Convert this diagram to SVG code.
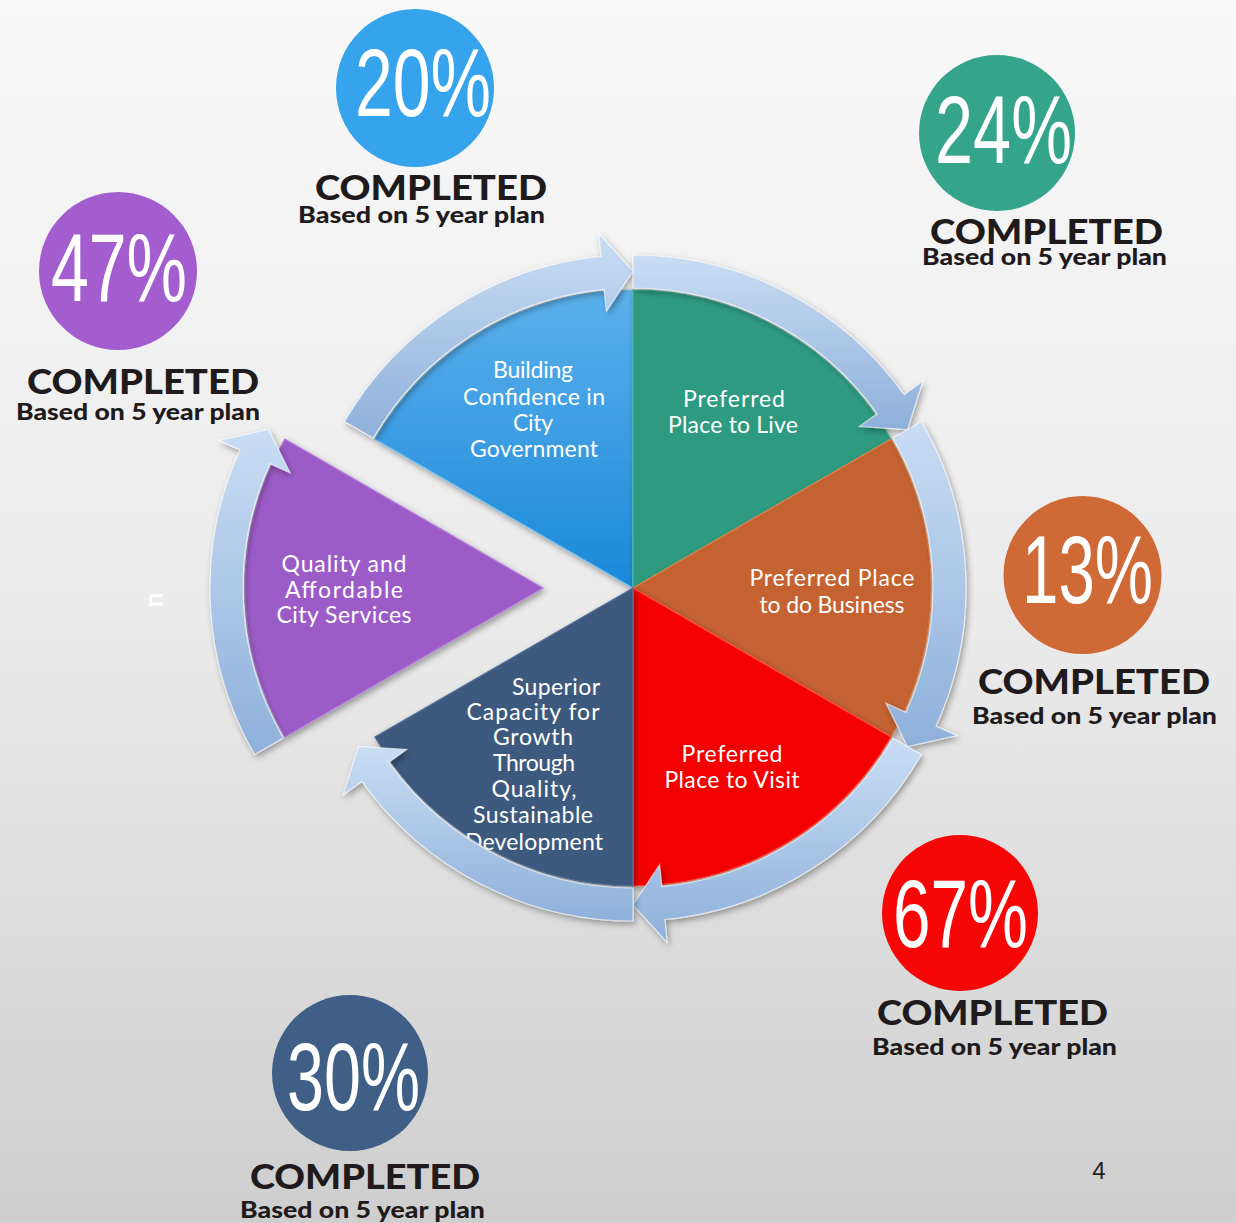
<svg xmlns="http://www.w3.org/2000/svg" width="1236" height="1223" viewBox="0 0 1236 1223">
  <defs>
    <linearGradient id="bg" x1="0" y1="0" x2="0" y2="1">
      <stop offset="0" stop-color="#f8f8f8"/>
      <stop offset="0.5" stop-color="#ebebeb"/>
      <stop offset="1" stop-color="#cecece"/>
    </linearGradient>
    <linearGradient id="arrowGrad" x1="0" y1="0" x2="0" y2="1">
      <stop offset="0" stop-color="#c9ddf4"/>
      <stop offset="1" stop-color="#8eb0da"/>
    </linearGradient>
    <linearGradient id="blueGrad" x1="0" y1="0" x2="0" y2="1">
      <stop offset="0" stop-color="#5cb0ec"/>
      <stop offset="1" stop-color="#1a89d8"/>
    </linearGradient>
    <filter id="shadow" x="-20%" y="-20%" width="140%" height="140%">
      <feDropShadow dx="2" dy="3" stdDeviation="3" flood-color="#000" flood-opacity="0.35"/>
    </filter>
    <style>
      .slice { stroke-width: 1.2; filter: url(#shadow); }
      .lbl { font-family: Lato, "Open Sans", "Liberation Sans", sans-serif; font-size: 23px; fill: #ffffff; text-anchor: middle; }
      .arrow { fill: url(#arrowGrad); stroke: #ffffff; stroke-opacity: 0.6; stroke-width: 1.2; filter: url(#shadow); }
      .pct { font-family: "Liberation Sans Narrow", "Liberation Sans", Arial, sans-serif; font-size: 96px; fill: #ffffff; text-anchor: middle; }
      .done { font-family: Lato, "DejaVu Sans", sans-serif; font-weight: 900; font-size: 34px; fill: #1f1b1c; text-anchor: middle; }
      .plan { font-family: Lato, "Open Sans", "Liberation Sans", sans-serif; font-weight: 900; font-size: 23px; fill: #1f1b1c; text-anchor: middle; }
    </style>
  </defs>

  <rect x="0" y="0" width="1236" height="1223" fill="url(#bg)"/>
  <text x="0" y="0" transform="translate(163,600) rotate(-90)" font-family="Lato, sans-serif" font-size="26" font-weight="700" fill="#ffffff" text-anchor="middle">n</text>

  <!-- Pie slices -->
  <g id="slice-government">
    <path class="slice" d="M633,588 L374.9,439 A298,298 0 0,1 633,290 Z" fill="url(#blueGrad)" stroke="#6cc0f0"/>
    <text class="lbl"><tspan x="533" y="378" textLength="80">Building</tspan><tspan x="534" y="405" textLength="142">Confidence in</tspan><tspan x="533" y="431" textLength="40">City</tspan><tspan x="534" y="457" textLength="128">Government</tspan></text>
  </g>
  <g id="slice-live">
    <path class="slice" d="M633,588 L633,290 A298,298 0 0,1 891.1,439 Z" fill="#2e9b81" stroke="#4cb59a"/>
    <text class="lbl"><tspan x="734" y="407" textLength="102">Preferred</tspan><tspan x="733" y="433" textLength="130">Place to Live</tspan></text>
  </g>
  <g id="slice-business">
    <path class="slice" d="M633,588 L891.1,439 A298,298 0 0,1 891.1,737 Z" fill="#c46231" stroke="#e08048"/>
    <text class="lbl"><tspan x="832" y="586" textLength="165">Preferred Place</tspan><tspan x="832" y="613" textLength="145">to do Business</tspan></text>
  </g>
  <g id="slice-visit">
    <path class="slice" d="M633,588 L891.1,737 A298,298 0 0,1 633,886 Z" fill="#f50505" stroke="#ff4a3a"/>
    <text class="lbl"><tspan x="732" y="762" textLength="101">Preferred</tspan><tspan x="732" y="788" textLength="135">Place to Visit</tspan></text>
  </g>
  <g id="slice-growth">
    <path class="slice" d="M633,588 L633,886 A298,298 0 0,1 374.9,737 Z" fill="#3d5a7e" stroke="#55739a"/>
    <text class="lbl"><tspan x="556" y="695" textLength="88">Superior</tspan><tspan x="533" y="720" textLength="133">Capacity for</tspan><tspan x="533" y="745" textLength="80">Growth</tspan><tspan x="534" y="771" textLength="82">Through</tspan><tspan x="534" y="797" textLength="85">Quality,</tspan><tspan x="533" y="823" textLength="120">Sustainable</tspan><tspan x="534" y="850" textLength="138">Development</tspan></text>
  </g>
  <g id="slice-services">
    <path class="slice" d="M543,588 L284.9,737 A298,298 0 0,1 284.9,439 Z" fill="#9c5bc8" stroke="#b57ddc"/>
    <text class="lbl"><tspan x="344" y="572" textLength="125">Quality and</tspan><tspan x="344" y="598" textLength="118">Affordable</tspan><tspan x="344" y="623" textLength="135">City Services</tspan></text>
  </g>

  <!-- Cycle arrows (connectors) -->
  <g id="connectors">
    <path class="arrow" d="M344.6,421.5 A333,333 0 0,1 601.1,256.5 L598.9,233.6 L633,271 L606.4,311.3 L604.2,289.4 A300,300 0 0,0 373.2,438 Z"/>
    <path class="arrow" d="M633,255 A333,333 0 0,1 904.1,394.6 L922.8,381.3 L907.5,429.5 L859.3,426.6 L877.2,413.8 A300,300 0 0,0 633,288 Z"/>
    <path class="arrow" d="M921.4,421.5 A333,333 0 0,1 936,726.1 L956.9,735.6 L907.5,746.5 L886,703.3 L906,712.4 A300,300 0 0,0 892.8,438 Z"/>
    <path class="arrow" d="M921.4,754.5 A333,333 0 0,1 664.9,919.5 L667.1,942.4 L633,905 L659.6,864.7 L661.8,886.6 A300,300 0 0,0 892.8,738 Z"/>
    <path class="arrow" d="M633,921 A333,333 0 0,1 361.9,781.4 L343.2,794.7 L358.5,746.5 L406.7,749.4 L388.8,762.2 A300,300 0 0,0 633,888 Z"/>
    <path class="arrow" d="M254.6,754.5 A333,333 0 0,1 240,449.9 L219.1,440.4 L268.5,429.5 L290,472.7 L270,463.6 A300,300 0 0,0 283.2,738 Z"/>
  </g>

  <!-- Progress badges -->
  <g id="badge-20">
    <circle cx="415" cy="88" r="79" fill="#35a4ec"/>
    <text class="pct" x="423" y="116" textLength="136" lengthAdjust="spacingAndGlyphs">20%</text>
    <text class="done" x="431" y="200" textLength="232" lengthAdjust="spacingAndGlyphs">COMPLETED</text>
    <text class="plan" x="421.5" y="223" textLength="247" lengthAdjust="spacingAndGlyphs">Based on 5 year plan</text>
  </g>
  <g id="badge-47">
    <circle cx="118" cy="271" r="79" fill="#a35dcf"/>
    <text class="pct" x="119" y="301" textLength="136" lengthAdjust="spacingAndGlyphs">47%</text>
    <text class="done" x="143" y="394" textLength="232" lengthAdjust="spacingAndGlyphs">COMPLETED</text>
    <text class="plan" x="138" y="420" textLength="244" lengthAdjust="spacingAndGlyphs">Based on 5 year plan</text>
  </g>
  <g id="badge-24">
    <circle cx="997" cy="133" r="78" fill="#34a48a"/>
    <text class="pct" x="1003.5" y="163" textLength="137" lengthAdjust="spacingAndGlyphs">24%</text>
    <text class="done" x="1046.5" y="244" textLength="233" lengthAdjust="spacingAndGlyphs">COMPLETED</text>
    <text class="plan" x="1044.5" y="265" textLength="245" lengthAdjust="spacingAndGlyphs">Based on 5 year plan</text>
  </g>
  <g id="badge-13">
    <circle cx="1082.5" cy="575" r="79" fill="#cf6a36"/>
    <text class="pct" x="1087.5" y="603" textLength="131" lengthAdjust="spacingAndGlyphs">13%</text>
    <text class="done" x="1094" y="694" textLength="232" lengthAdjust="spacingAndGlyphs">COMPLETED</text>
    <text class="plan" x="1094.5" y="724" textLength="245" lengthAdjust="spacingAndGlyphs">Based on 5 year plan</text>
  </g>
  <g id="badge-67">
    <circle cx="960" cy="913" r="78" fill="#f70606"/>
    <text class="pct" x="960.5" y="947" textLength="135" lengthAdjust="spacingAndGlyphs">67%</text>
    <text class="done" x="992.5" y="1025" textLength="231" lengthAdjust="spacingAndGlyphs">COMPLETED</text>
    <text class="plan" x="994.5" y="1055" textLength="245" lengthAdjust="spacingAndGlyphs">Based on 5 year plan</text>
  </g>
  <g id="badge-30">
    <circle cx="350" cy="1073" r="78" fill="#3f5f87"/>
    <text class="pct" x="353.5" y="1110" textLength="133" lengthAdjust="spacingAndGlyphs">30%</text>
    <text class="done" x="365" y="1189" textLength="230" lengthAdjust="spacingAndGlyphs">COMPLETED</text>
    <text class="plan" x="362.5" y="1218" textLength="245" lengthAdjust="spacingAndGlyphs">Based on 5 year plan</text>
  </g>

  <text x="1099" y="1179" font-family="'Liberation Sans', Arial, sans-serif" font-size="24" fill="#222222" text-anchor="middle">4</text>
</svg>
